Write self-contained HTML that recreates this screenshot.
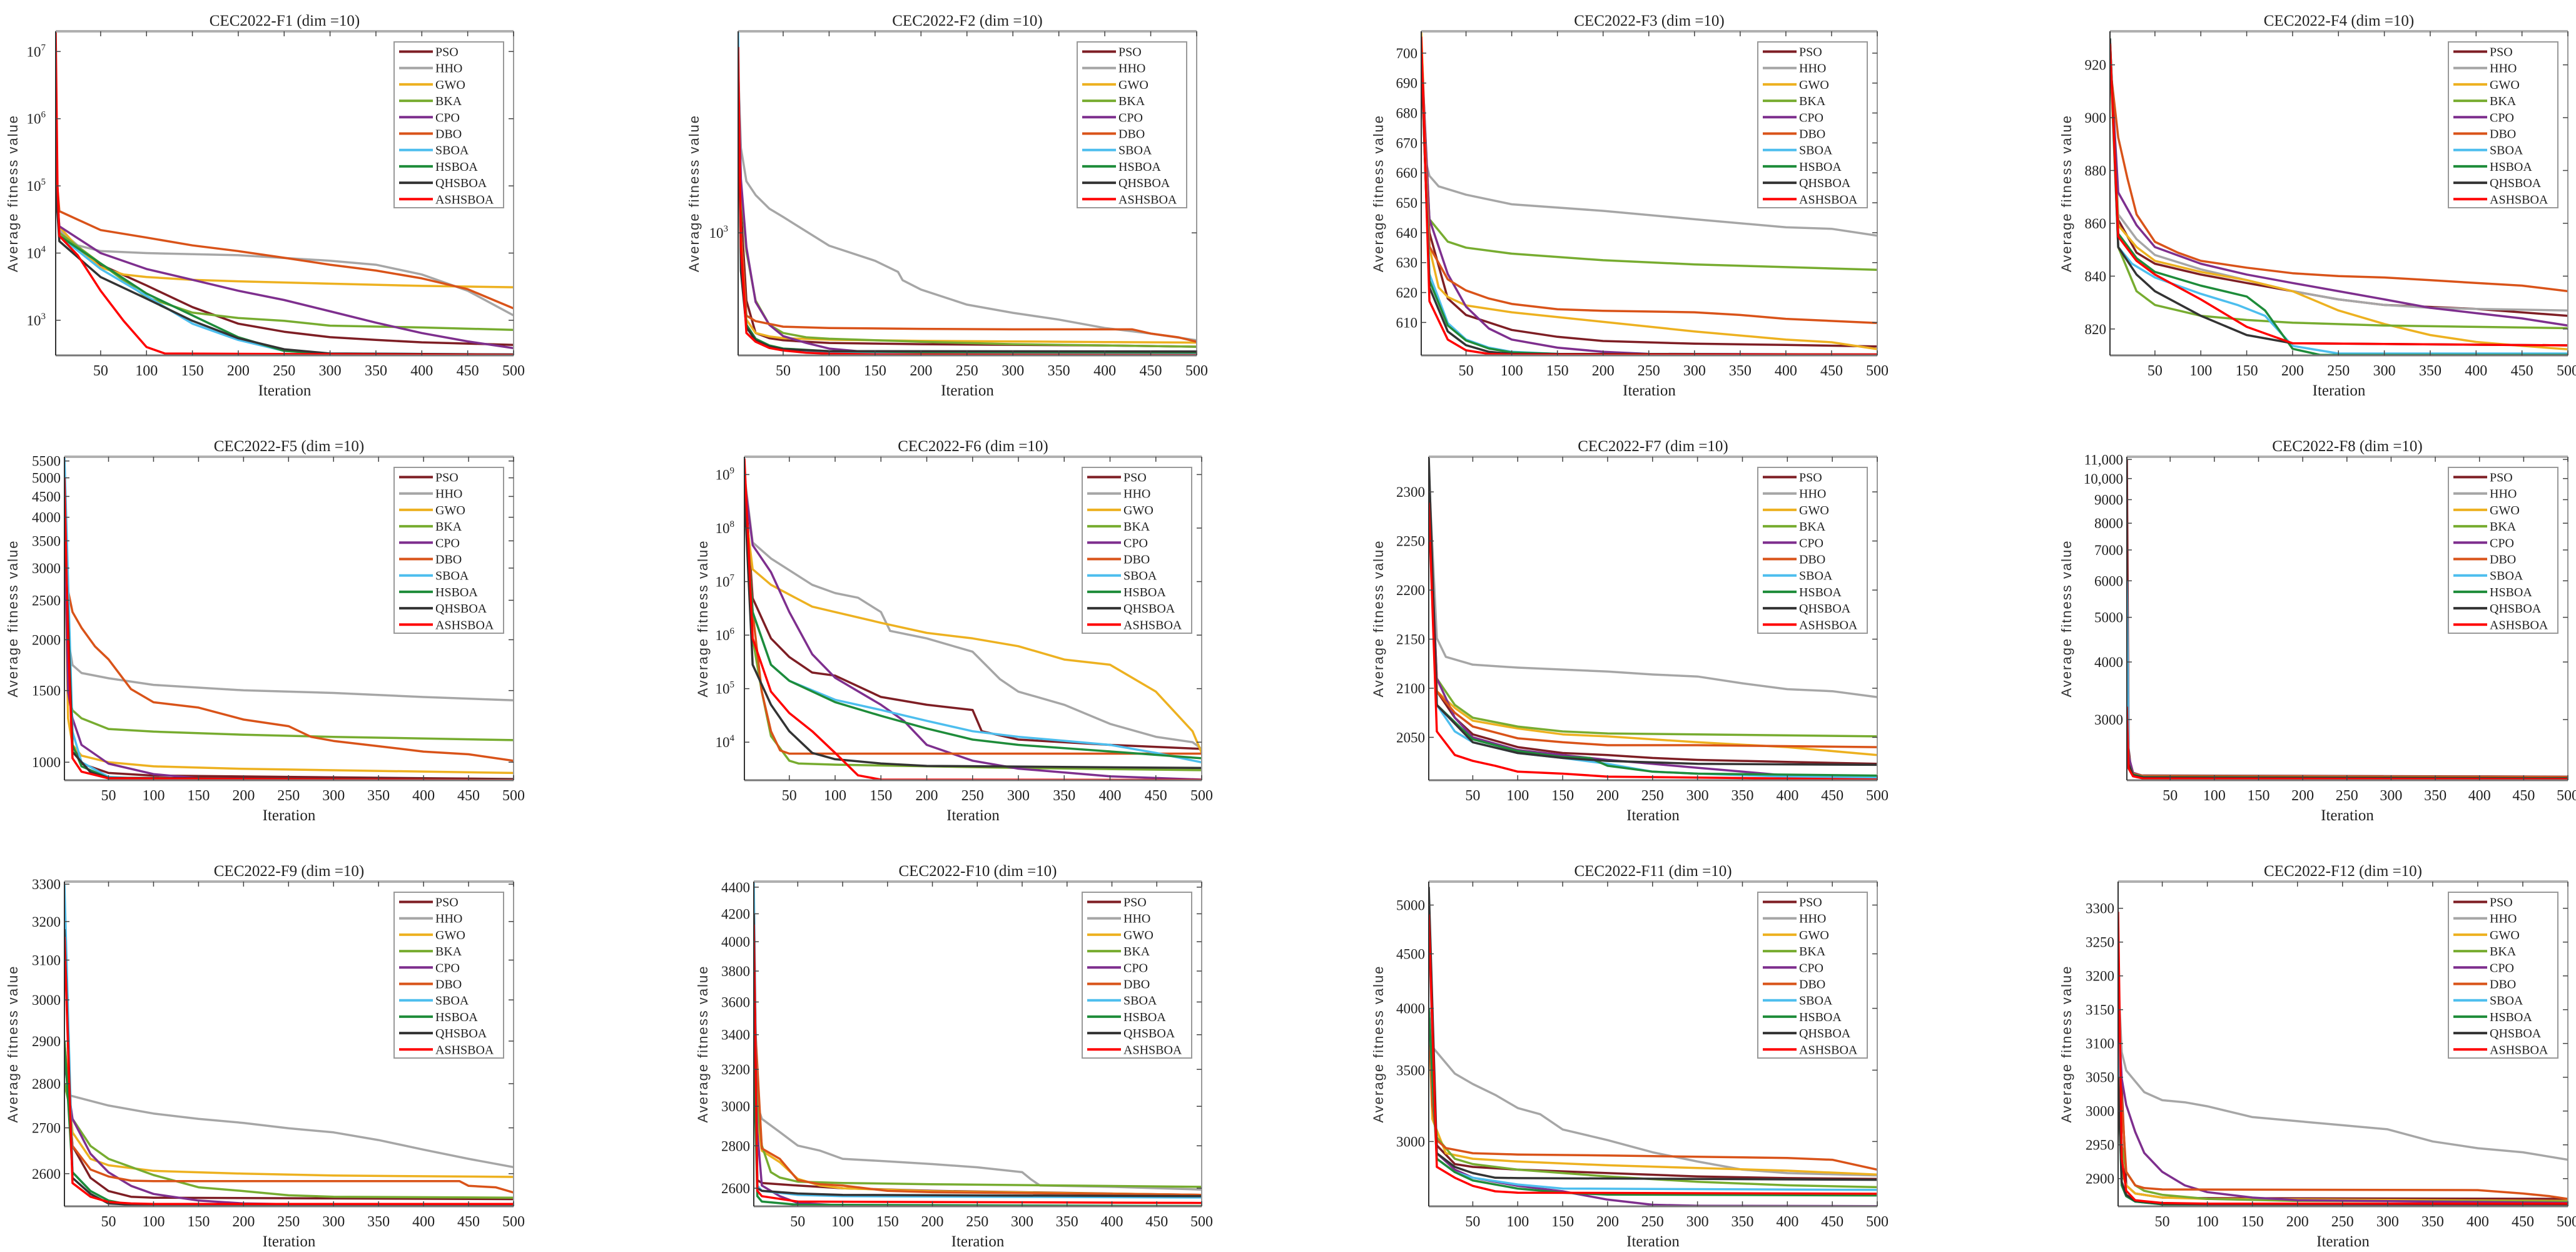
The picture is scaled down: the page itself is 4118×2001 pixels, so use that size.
<!DOCTYPE html>
<html><head><meta charset="utf-8"><title>CEC2022 convergence curves</title>
<style>
html,body{margin:0;padding:0;background:#fff;}
svg{display:block;}
text{font-family:"Liberation Serif",serif;fill:#222;}
.yl{font-family:"Liberation Sans",sans-serif;letter-spacing:2px;fill:#333;}
</style></head>
<body>
<svg id="fig" xmlns="http://www.w3.org/2000/svg" width="4118" height="2001" viewBox="0 0 4118 2001"></svg>
<script>
const algorithms = ['PSO','HHO','GWO','BKA','CPO','DBO','SBOA','HSBOA','QHSBOA','ASHSBOA'];
const xTicks = [50,100,150,200,250,300,350,400,450,500];

const F1_series = [
 [[1,1e5],[5,2e4],[50,6.7e3],[100,3.3e3],[150,1.57e3],[200,890],[250,675],[300,560],[350,510],[400,470],[500,430]],
 [[1,1.5e5],[5,2.2e4],[25,1.3e4],[50,1.07e4],[100,1.0e4],[200,9.3e3],[300,7.7e3],[350,6.7e3],[400,4.8e3],[450,2.75e3],[500,1.18e3]],
 [[1,8e4],[5,2.5e4],[25,1.2e4],[50,6.1e3],[75,4.8e3],[100,4.4e3],[150,4.0e3],[200,3.8e3],[300,3.5e3],[400,3.25e3],[500,3.1e3]],
 [[1,1e5],[5,2e4],[50,7e3],[100,2.2e3],[150,1.3e3],[200,1.08e3],[250,980],[300,830],[400,780],[500,720]],
 [[1,1.2e5],[5,2.5e4],[50,1.0e4],[100,5.8e3],[150,4e3],[200,2.75e3],[250,2.0e3],[300,1.36e3],[350,920],[400,645],[450,485],[500,385]],
 [[1,2e5],[5,4.2e4],[50,2.2e4],[100,1.7e4],[150,1.3e4],[200,1.07e4],[250,8.5e3],[300,6.7e3],[350,5.5e3],[400,4.2e3],[450,2.9e3],[500,1.5e3]],
 [[1,1e5],[5,1.8e4],[50,5.8e3],[100,2.3e3],[150,890],[200,510],[250,350],[300,320],[500,310]],
 [[1,1e5],[5,1.8e4],[50,7e3],[100,2.5e3],[150,1.18e3],[200,560],[250,350],[300,315],[500,308]],
 [[1,1e5],[5,1.5e4],[50,4.4e3],[100,2.1e3],[150,980],[200,540],[250,370],[300,320],[500,310]],
 [[1,2e7],[3,1e5],[5,1.8e4],[25,9.3e3],[50,2.75e3],[75,980],[100,400],[120,320],[500,305]]
];
const F2_series = [
 [[1,3000],[4,1200],[10,600],[20,470],[35,452],[50,445],[75,440],[100,436],[150,434],[200,432],[300,430],[400,428],[500,424]],
 [[1,3500],[4,1900],[10,1475],[20,1330],[35,1200],[50,1127],[100,908],[150,810],[175,745],[180,700],[200,652],[250,582],[300,547],[350,520],[400,488],[450,468],[500,445]],
 [[1,3000],[4,1000],[10,520],[20,470],[35,458],[50,452],[100,447],[200,443],[300,441],[400,439],[500,437]],
 [[1,3500],[4,1400],[10,870],[20,600],[35,500],[50,470],[75,455],[100,450],[200,440],[300,432],[400,428],[500,424]],
 [[1,3500],[4,1500],[10,898],[20,594],[35,500],[50,459],[75,436],[100,418],[150,405],[200,401],[300,398],[500,396]],
 [[1,3000],[4,1000],[10,536],[20,514],[50,493],[100,488],[200,485],[300,483],[430,483],[450,468],[480,455],[500,440]],
 [[1,4570],[4,800],[10,500],[20,450],[35,425],[50,415],[75,410],[100,406],[150,404],[200,403],[500,401]],
 [[1,3500],[4,800],[10,500],[20,450],[35,428],[50,418],[100,410],[200,407],[500,406]],
 [[1,3500],[4,750],[10,490],[20,445],[35,425],[50,416],[100,410],[500,409]],
 [[1,4060],[4,900],[10,470],[20,440],[35,420],[50,412],[75,405],[100,402],[150,400],[500,398]]
];
const F3_series = [
 [[1,700],[10,640],[30,618],[50,612.5],[100,607.5],[150,605.2],[200,603.8],[300,602.9],[400,602.5],[500,602]],
 [[1,705],[5,665],[10,659],[20,655.5],[50,652.7],[100,649.5],[200,647.3],[300,644.5],[400,641.8],[450,641.3],[500,639]],
 [[1,707],[10,635],[20,621.7],[30,618.5],[50,615.7],[100,613.4],[200,610.2],[300,607],[400,604.3],[450,603.4],[500,601.1]],
 [[1,700],[10,644.5],[30,637],[50,635],[100,633],[200,630.8],[300,629.4],[400,628.5],[500,627.6]],
 [[1,702],[10,644.5],[30,626.2],[50,615.3],[75,608],[100,604.3],[150,601.6],[200,600.2],[250,599.5],[500,599.3]],
 [[1,703],[10,635.4],[30,624.4],[50,620.7],[75,618],[100,616.2],[150,614.4],[200,613.9],[300,613.4],[350,612.5],[400,611.2],[500,609.8]],
 [[1,700],[10,626.2],[30,609.8],[50,604.3],[75,601.6],[100,600.2],[150,599.5],[500,599.3]],
 [[1,698],[10,624],[30,609],[50,604],[75,601.3],[100,600],[150,599.5],[500,599.3]],
 [[1,700],[10,621.7],[30,607],[50,602.4],[75,600.2],[100,599.5],[500,599.3]],
 [[1,705.5],[10,617.1],[30,604.3],[50,600.7],[75,599.5],[100,599.3],[500,599.3]]
];
const F4_series = [
 [[1,925],[10,861.3],[30,848.9],[50,844.7],[100,840.6],[150,837.4],[200,834.3],[250,831.2],[300,829.1],[400,827.6],[500,825]],
 [[1,928],[10,863.4],[30,854],[50,848],[100,842.6],[150,838.5],[200,834.3],[250,831.2],[300,829.1],[350,828],[400,827.6],[500,827]],
 [[1,925],[10,859.3],[30,851],[50,845.8],[100,841.6],[150,838.5],[200,834.3],[250,827],[300,821.9],[350,817.7],[400,815.1],[450,813.6],[500,812.3]],
 [[1,925],[10,851],[30,834.3],[50,829.1],[100,825],[150,823.4],[200,822.4],[300,821.3],[400,820.8],[500,820.3]],
 [[1,925],[10,871.7],[30,859.3],[50,851],[100,844.7],[150,840.6],[200,837.4],[250,834.3],[300,831.2],[350,828],[400,826],[450,824],[500,821.3]],
 [[1,920],[10,892.5],[20,877],[30,863.4],[50,853],[75,848.9],[100,845.8],[150,843.2],[200,841.1],[250,840],[300,839.5],[350,838.5],[400,837.4],[450,836.4],[500,834.3]],
 [[1,930],[10,851],[25,844.7],[50,839.5],[100,833.3],[140,829.1],[170,825],[200,813.6],[250,810.7],[500,810.7]],
 [[1,930],[10,856.1],[30,846.8],[50,841.6],[100,836.4],[150,832.3],[170,827],[200,812.5],[230,810.2],[500,810.2]],
 [[1,930],[10,851],[30,840.6],[50,834.3],[100,825],[150,817.7],[200,814.6],[500,813.8]],
 [[1,928],[10,855],[30,845.8],[50,840.6],[100,831.2],[150,820.8],[200,814.6],[500,813.8]]
];
const F5_series = [
 [[1,4000],[10,1103],[20,992],[50,941],[100,927],[500,909]],
 [[1,4000],[5,2016],[10,1733],[20,1657],[50,1608],[100,1549],[150,1525],[200,1502],[300,1480],[400,1446],[500,1420]],
 [[1,4000],[5,1282],[10,1103],[20,1038],[50,1000],[100,977],[200,963],[500,941]],
 [[1,4000],[5,1490],[10,1341],[20,1282],[50,1207],[100,1189],[200,1168],[300,1154],[500,1133]],
 [[1,4000],[5,1490],[10,1282],[20,1103],[50,992],[100,935],[150,913],[500,906]],
 [[1,4500],[5,2640],[10,2340],[20,2140],[35,1925],[50,1790],[75,1512],[100,1404],[150,1362],[200,1273],[250,1226],[275,1154],[300,1128],[350,1095],[400,1062],[450,1046],[500,1008]],
 [[1,5633],[10,1189],[20,1000],[50,920],[100,908],[500,905]],
 [[1,4000],[10,1103],[20,977],[50,915],[500,906]],
 [[1,4000],[10,1060],[30,945],[50,915],[500,906]],
 [[1,5000],[5,2000],[10,1023],[20,948],[50,913],[500,904]]
];
const F6_series = [
 [[1,1e9],[10,4.9e6],[30,8.7e5],[50,3.9e5],[75,2e5],[100,1.75e5],[150,7e4],[200,5e4],[250,4e4],[260,1.6e4],[300,1.12e4],[400,8.9e3],[500,7.5e3]],
 [[1,1e9],[10,5.4e7],[30,2.7e7],[75,8.7e6],[100,6.1e6],[125,5e6],[150,2.7e6],[160,1.2e6],[200,8.7e5],[250,4.9e5],[280,1.5e5],[300,8.8e4],[350,5e4],[400,2.2e4],[450,1.26e4],[490,1e4],[500,7.5e3]],
 [[1,3e8],[10,1.7e7],[30,8.7e6],[75,3.4e6],[100,2.7e6],[150,1.7e6],[200,1.1e6],[250,8.7e5],[300,6.2e5],[350,3.5e5],[400,2.8e5],[450,8.8e4],[490,1.6e4],[500,6.3e3]],
 [[1,5e8],[10,8.7e5],[20,8.8e4],[30,1.3e4],[50,4.5e3],[60,4e3],[100,3.8e3],[300,3.3e3],[500,3e3]],
 [[1,8e8],[10,4.8e7],[30,1.5e7],[50,2.7e6],[75,4.4e5],[100,1.6e5],[150,5e4],[175,2.5e4],[200,8.9e3],[250,4.5e3],[300,3.2e3],[400,2.3e3],[500,2e3]],
 [[1,1e9],[10,2.7e6],[20,8.8e4],[30,1.6e4],[40,7e3],[50,6.1e3],[500,6.1e3]],
 [[1,5e8],[10,2.7e6],[30,2.8e5],[50,1.4e5],[100,6.2e4],[150,4e4],[200,2.5e4],[250,1.6e4],[300,1.26e4],[350,1.06e4],[400,8.9e3],[450,6.3e3],[500,4.2e3]],
 [[1,5e8],[10,2.7e6],[30,2.8e5],[50,1.4e5],[100,5.6e4],[150,3.1e4],[200,1.8e4],[250,1.12e4],[300,8.9e3],[400,6.7e3],[500,5e3]],
 [[1,5e8],[10,2.8e5],[30,5e4],[50,1.6e4],[75,6.3e3],[100,4.8e3],[150,4e3],[200,3.6e3],[500,3.3e3]],
 [[1,2e9],[10,8.7e5],[30,8.8e4],[50,3.5e4],[75,1.6e4],[100,6.3e3],[125,2.4e3],[150,2e3],[500,1.97e3]]
];
const F7_series = [
 [[1,2300],[10,2097],[30,2070],[50,2053],[100,2040],[150,2034],[200,2032],[250,2029],[300,2027],[350,2026],[400,2025],[500,2023]],
 [[1,2320],[10,2151],[20,2132],[50,2124],[100,2121],[200,2117],[250,2114],[300,2112],[350,2105],[400,2099],[450,2097],[500,2091]],
 [[1,2310],[10,2097],[30,2080],[50,2067],[100,2059],[150,2053],[200,2051],[300,2045],[400,2040],[500,2032]],
 [[1,2300],[10,2110],[30,2083],[50,2070],[100,2061],[150,2056],[200,2054],[300,2053],[500,2051]],
 [[1,2300],[10,2110],[30,2070],[50,2050],[100,2037],[150,2032],[200,2027],[250,2023],[300,2019],[350,2015],[400,2011],[500,2009]],
 [[1,2300],[10,2097],[30,2075],[50,2061],[100,2049],[150,2045],[200,2042],[300,2042],[500,2040]],
 [[1,2300],[10,2083],[30,2056],[50,2045],[100,2034],[150,2029],[200,2023],[250,2015],[300,2013],[400,2010],[500,2009]],
 [[1,2300],[10,2083],[50,2048],[100,2036],[150,2030],[180,2029],[200,2021],[250,2015],[300,2013],[500,2011]],
 [[1,2335],[10,2083],[50,2045],[100,2034],[150,2029],[200,2026],[300,2023],[500,2022]],
 [[1,2289],[10,2056],[30,2032],[50,2026],[75,2021],[100,2015],[150,2013],[200,2010],[300,2009],[500,2007]]
];
const F8_series = [
 [[1,11000],[3,2600],[6,2300],[15,2270],[500,2255]],
 [[1,3000],[3,2500],[8,2300],[20,2265],[500,2250]],
 [[1,3000],[3,2450],[8,2300],[20,2260],[500,2245]],
 [[1,3200],[3,2500],[8,2290],[20,2255],[500,2245]],
 [[1,3000],[3,2500],[8,2300],[20,2260],[500,2240]],
 [[1,3000],[3,2400],[8,2290],[20,2262],[500,2250]],
 [[1,6000],[3,2400],[8,2280],[20,2250],[500,2235]],
 [[1,3000],[3,2400],[8,2280],[20,2250],[500,2238]],
 [[1,3000],[3,2400],[8,2270],[20,2245],[500,2235]],
 [[1,3200],[3,2350],[8,2260],[20,2235],[500,2228]]
];
const F9_series = [
 [[1,2900],[10,2660],[30,2591],[50,2563],[75,2551],[100,2549],[500,2546]],
 [[1,2800],[5,2774],[50,2750],[100,2732],[150,2720],[200,2711],[250,2699],[300,2690],[350,2673],[400,2652],[450,2632],[500,2614]],
 [[1,2900],[10,2690],[30,2632],[50,2618],[100,2606],[150,2603],[200,2600],[300,2596],[500,2593]],
 [[1,2800],[10,2720],[30,2660],[50,2632],[100,2597],[150,2571],[200,2563],[250,2554],[300,2551],[500,2549]],
 [[1,2850],[10,2720],[30,2643],[50,2603],[75,2574],[100,2557],[150,2543],[200,2537],[300,2534],[500,2532]],
 [[1,2900],[10,2660],[30,2609],[50,2594],[75,2585],[100,2584],[440,2584],[450,2574],[480,2571],[500,2560]],
 [[1,3300],[10,2603],[30,2563],[50,2543],[75,2534],[100,2531.5],[500,2531]],
 [[1,2900],[10,2603],[30,2563],[50,2543],[75,2534],[100,2531.5],[500,2531]],
 [[1,3180],[10,2591],[30,2557],[50,2537],[100,2532],[500,2531.5]],
 [[1,3160],[10,2580],[30,2551],[50,2540],[75,2537],[100,2536],[500,2536]]
];
const F10_series = [
 [[1,3500],[5,2637],[10,2624],[50,2612],[100,2600],[200,2588],[500,2570]],
 [[1,4000],[5,3006],[10,2935],[30,2868],[50,2801],[75,2776],[100,2737],[150,2725],[200,2712],[250,2697],[300,2674],[310,2640],[320,2612],[400,2606],[500,2594]],
 [[1,3800],[5,2935],[10,2776],[30,2721],[50,2643],[75,2612],[100,2600],[200,2586],[500,2570]],
 [[1,3700],[5,3006],[10,2801],[20,2674],[30,2649],[50,2630],[100,2624],[200,2618],[500,2606]],
 [[1,3500],[5,2868],[10,2612],[30,2564],[50,2534],[100,2522],[500,2519]],
 [[1,3600],[10,2787],[30,2737],[50,2637],[75,2618],[100,2612],[150,2588],[200,2582],[500,2570]],
 [[1,4443],[5,2612],[10,2588],[50,2570],[100,2564],[500,2558]],
 [[1,3300],[5,2564],[10,2540],[50,2526],[500,2520]],
 [[1,4200],[5,2600],[10,2588],[50,2576],[100,2570],[500,2564]],
 [[1,4122],[5,2588],[10,2564],[50,2540],[500,2534]]
];
const F11_series = [
 [[1,4000],[10,2975],[30,2857],[50,2840],[100,2823],[200,2802],[300,2782],[400,2772],[500,2767]],
 [[1,5000],[5,3681],[30,3474],[50,3397],[75,3318],[100,3225],[125,3182],[150,3079],[200,3009],[250,2931],[300,2873],[350,2823],[400,2802],[500,2788]],
 [[1,4000],[5,3150],[20,2925],[50,2890],[100,2873],[200,2850],[300,2833],[400,2817],[500,2793]],
 [[1,4000],[5,3243],[10,3026],[30,2890],[50,2857],[100,2823],[200,2782],[300,2750],[400,2729],[500,2718]],
 [[1,4000],[10,2925],[30,2823],[50,2774],[100,2726],[150,2694],[200,2646],[250,2617],[300,2611],[500,2609]],
 [[1,4000],[5,3243],[10,3009],[20,2958],[50,2925],[100,2917],[200,2911],[400,2895],[450,2884],[500,2823]],
 [[1,4000],[10,2890],[30,2808],[50,2774],[100,2734],[150,2710],[500,2702]],
 [[1,4000],[10,2890],[30,2808],[50,2758],[100,2710],[150,2686],[200,2675],[500,2670]],
 [[1,5200],[10,2925],[30,2840],[50,2802],[75,2774],[100,2772],[500,2762]],
 [[1,4900],[10,2840],[30,2774],[50,2726],[75,2694],[100,2686],[500,2680]]
];
const F12_series = [
 [[1,3150],[10,2890],[20,2878],[50,2872],[100,2871],[500,2870]],
 [[1,3200],[5,3087],[10,3060],[20,3044],[30,3028],[50,3016],[75,3013],[100,3007],[150,2991],[200,2985],[250,2979],[300,2973],[350,2955],[400,2945],[450,2939],[500,2928]],
 [[1,3100],[5,2910],[10,2890],[20,2878],[50,2872],[100,2870],[500,2867]],
 [[1,3100],[5,2949],[10,2910],[20,2890],[30,2882],[50,2876],[100,2870],[200,2867],[500,2866]],
 [[1,3150],[5,3048],[10,3009],[20,2969],[30,2938],[50,2910],[75,2890],[100,2880],[150,2872],[200,2868],[500,2864]],
 [[1,3100],[10,2910],[20,2890],[30,2886],[50,2884],[400,2883],[450,2878],[480,2874],[500,2870]],
 [[1,3100],[5,2890],[10,2874],[20,2866],[50,2862],[100,2861],[500,2860]],
 [[1,3050],[5,2890],[10,2874],[20,2866],[50,2862],[100,2861],[500,2860]],
 [[1,3050],[5,2895],[10,2876],[20,2867],[50,2863],[100,2862],[500,2861]],
 [[1,3295],[5,2930],[10,2882],[20,2868],[50,2864],[100,2863],[500,2863]]
];

const F1_yTicks = [1e3,1e4,1e5,1e6,1e7];
const F2_yTicks = [1e3];
const F3_yTicks = [610,620,630,640,650,660,670,680,690,700];
const F4_yTicks = [820,840,860,880,900,920];
const F5_yTicks = [1000,1500,2000,2500,3000,3500,4000,4500,5000,5500];
const F6_yTicks = [1e4,1e5,1e6,1e7,1e8,1e9];
const F7_yTicks = [2050,2100,2150,2200,2250,2300];
const F8_yTicks = [3000,4000,5000,6000,7000,8000,9000,10000,11000];
const F8_yTickLabels = ['3000','4000','5000','6000','7000','8000','9000','10,000','11,000'];
const F9_yTicks = [2600,2700,2800,2900,3000,3100,3200,3300];
const F10_yTicks = [2600,2800,3000,3200,3400,3600,3800,4000,4200,4400];
const F11_yTicks = [3000,3500,4000,4500,5000];
const F12_yTicks = [2900,2950,3000,3050,3100,3150,3200,3250,3300];

const panels = [
 {id:'f1', title:'CEC2022-F1 (dim =10)', series:F1_series, log:true, dom:[300,2e7], ticks:F1_yTicks, pow:true},
 {id:'f2', title:'CEC2022-F2 (dim =10)', series:F2_series, log:true, dom:[397,4570], ticks:F2_yTicks, pow:true},
 {id:'f3', title:'CEC2022-F3 (dim =10)', series:F3_series, log:false, dom:[599,707.3], ticks:F3_yTicks},
 {id:'f4', title:'CEC2022-F4 (dim =10)', series:F4_series, log:false, dom:[810,932.7], ticks:F4_yTicks},
 {id:'f5', title:'CEC2022-F5 (dim =10)', series:F5_series, log:true, dom:[903,5633], ticks:F5_yTicks},
 {id:'f6', title:'CEC2022-F6 (dim =10)', series:F6_series, log:true, dom:[1945,2.15e9], ticks:F6_yTicks, pow:true},
 {id:'f7', title:'CEC2022-F7 (dim =10)', series:F7_series, log:false, dom:[2006.3,2335.8], ticks:F7_yTicks},
 {id:'f8', title:'CEC2022-F8 (dim =10)', series:F8_series, log:true, dom:[2216,11150], ticks:F8_yTicks, labels:F8_yTickLabels},
 {id:'f9', title:'CEC2022-F9 (dim =10)', series:F9_series, log:true, dom:[2531,3307], ticks:F9_yTicks},
 {id:'f10', title:'CEC2022-F10 (dim =10)', series:F10_series, log:true, dom:[2519,4443], ticks:F10_yTicks},
 {id:'f11', title:'CEC2022-F11 (dim =10)', series:F11_series, log:true, dom:[2608,5260], ticks:F11_yTicks},
 {id:'f12', title:'CEC2022-F12 (dim =10)', series:F12_series, log:false, dom:[2859,3339.5], ticks:F12_yTicks}
];

// layout (pixels): left, right, top, bottom, y-label x
const boxes = [
 [89,821,50,568,28],[1180,1913,50,568,1117],[2272,3001,50,568,2211],[3373,4105,50,568,3311],
 [103,821,730,1247,28],[1190,1921,730,1247,1131],[2284,3001,730,1247,2211],[3400,4105,730,1247,3311],
 [103,821,1409,1928,28],[1205,1921,1409,1928,1131],[2284,3001,1409,1928,2211],[3386,4105,1409,1928,3311]
];
const colors = ['#7E1E24','#A6A6A6','#EDB120','#77AC30','#7E2F8E','#D95319','#4DBEEE','#1E8C3A','#333333','#FF0000'];

const NS = 'http://www.w3.org/2000/svg';
const svg = document.getElementById('fig');
function mk(tag, attrs, parent){
  const e = document.createElementNS(NS, tag);
  for (const k in attrs) e.setAttribute(k, attrs[k]);
  parent.appendChild(e);
  return e;
}
const defs = mk('defs', {}, svg);

panels.forEach((p, pi) => {
  const [L, R, T, B, YLX] = boxes[pi];
  const xS = it => L + (it - 1) / 499 * (R - L);
  const yS = v => p.log
    ? B - (Math.log10(v) - Math.log10(p.dom[0])) / (Math.log10(p.dom[1]) - Math.log10(p.dom[0])) * (B - T)
    : B - (v - p.dom[0]) / (p.dom[1] - p.dom[0]) * (B - T);

  const g = mk('g', {}, svg);
  
  

  const cp = mk('clipPath', {id: 'clip-' + p.id}, defs);
  mk('rect', {x: L, y: T, width: R - L, height: B - T}, cp);

  const bg = mk('rect', {x: L, y: T, width: R - L, height: B - T, fill: '#fff'}, g);
  
  

  // series lines
  const lines = mk('g', {'clip-path': 'url(#clip-' + p.id + ')'}, g);
  p.series.forEach((s, si) => {
    const pts = s.map(d => xS(d[0]).toFixed(1) + ',' + yS(d[1]).toFixed(1)).join(' ');
    const pl = mk('polyline', {points: pts, fill: 'none', stroke: colors[si], 'stroke-width': 3.5, 'stroke-linejoin': 'round'}, lines);
    
    
  });

  // axis frame
  mk('line', {x1: L, y1: T, x2: R, y2: T, stroke: '#b0b0b0', 'stroke-width': 4}, g);
  mk('line', {x1: R, y1: T, x2: R, y2: B, stroke: '#999', 'stroke-width': 2}, g);
  const xa = mk('line', {x1: L, y1: B, x2: R, y2: B, stroke: '#777', 'stroke-width': 3}, g);
  
  
  const ya = mk('line', {x1: L, y1: T, x2: L, y2: B, stroke: '#333', 'stroke-width': 2}, g);
  
  

  // x ticks
  xTicks.forEach(t => {
    const x = xS(t);
    mk('line', {x1: x, y1: B, x2: x, y2: B - 8, stroke: '#444', 'stroke-width': 1.5}, g);
    mk('line', {x1: x, y1: T, x2: x, y2: T + 8, stroke: '#444', 'stroke-width': 1.5}, g);
    const tx = mk('text', {x: x, y: B + 32, 'text-anchor': 'middle', 'font-size': 24}, g);
    tx.textContent = String(t);
    
    
  });

  // y ticks
  p.ticks.forEach((t, ti) => {
    const y = yS(t);
    mk('line', {x1: L, y1: y, x2: L + 8, y2: y, stroke: '#444', 'stroke-width': 1.5}, g);
    mk('line', {x1: R, y1: y, x2: R - 8, y2: y, stroke: '#444', 'stroke-width': 1.5}, g);
    const tx = mk('text', {x: L - 6, y: y + 8, 'text-anchor': 'end', 'font-size': 23}, g);
    
    
    if (p.pow) {
      tx.setAttribute('x', L - 16);
      tx.appendChild(document.createTextNode('10'));
      const sp = mk('tspan', {dy: -10, 'font-size': 15}, tx);
      sp.textContent = String(Math.round(Math.log10(t)));
    } else {
      tx.textContent = p.labels ? p.labels[ti] : String(t);
    }
  });

  // title
  const tt = mk('text', {x: (L + R) / 2, y: T - 9, 'text-anchor': 'middle', 'font-size': 25}, g);
  tt.textContent = p.title;
  
  

  // axis titles
  const xl = mk('text', {x: (L + R) / 2, y: B + 64, 'text-anchor': 'middle', 'font-size': 25}, g);
  xl.textContent = 'Iteration';
  
  
  const ym = (T + B) / 2;
  const yl = mk('text', {x: YLX, y: ym, 'text-anchor': 'middle', 'font-size': 22, 'class': 'yl', transform: 'rotate(-90 ' + YLX + ' ' + ym + ')'}, g);
  yl.textContent = 'Average fitness value';
  
  

  // legend
  const bx = R - 16 - 175, by = T + 17;
  const lg = mk('g', {}, g);
  
  
  mk('rect', {x: bx, y: by, width: 175, height: 265, fill: '#fff', stroke: '#999', 'stroke-width': 2}, lg);
  algorithms.forEach((a, ai) => {
    const y = T + 32.5 + ai * 26.2;
    const le = mk('g', {}, lg);
    
    
    mk('line', {x1: bx + 8, y1: y, x2: bx + 62, y2: y, stroke: colors[ai], 'stroke-width': 4}, le);
    const lt = mk('text', {x: bx + 66, y: y + 7, 'font-size': 20}, le);
    lt.textContent = a;
  });
});
</script>
</body></html>
